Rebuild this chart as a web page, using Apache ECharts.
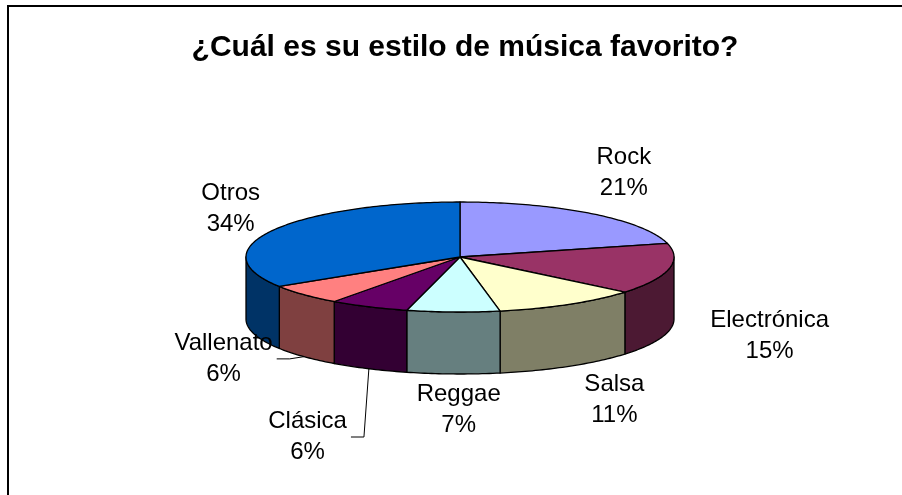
<!DOCTYPE html>
<html>
<head>
<meta charset="utf-8">
<script src="https://cdn.jsdelivr.net/npm/echarts@6/dist/echarts.min.js"></script>
<style>
  html, body { margin: 0; padding: 0; background: #fff; }
  #chart { width: 902px; height: 495px; }
</style>
</head>
<body>
<div id="chart"></div>
<script>
// datos de la encuesta (porcentajes)
const estilos = ['Rock', 'Electrónica', 'Salsa', 'Reggae', 'Clásica', 'Vallenato', 'Otros'];
const votos = [21, 15, 11, 7, 6, 6, 34];

const colores = ['#9999FF', '#993366', '#FFFFCC', '#CCFFFF', '#660066', '#FF8080', '#0066CC'];
// desplazamiento de cada etiqueta respecto a su posicion por defecto
const labelNudge = {
  'Rock': [2, -1], 'Electrónica': [52, -6], 'Salsa': [20, -10], 'Reggae': [7, -14],
  'Clásica': [-40, 23], 'Vallenato': [-44, -32], 'Otros': [2, 2]
};
const conLinea = ['Clásica', 'Vallenato'];

const pie = { cx: 460, cy: 257, rx: 214, ry: 55, depth: 62 };
const labelFont = '24px "Liberation Sans", Arial, sans-serif';

const total = votos.reduce((a, b) => a + b, 0);
const inicio = [];
let acc = 0;
for (let v of votos) { inicio.push(acc); acc += v; }

function oscuro(hex) {
  let n = parseInt(hex.slice(1), 16);
  let r = (n >> 16) >> 1, g = ((n >> 8) & 255) >> 1, b = (n & 255) >> 1;
  return 'rgb(' + r + ',' + g + ',' + b + ')';
}
function punto(deg, dy) {
  let t = deg * Math.PI / 180;
  return [pie.cx + pie.rx * Math.sin(t), pie.cy - pie.ry * Math.cos(t) + (dy || 0)];
}
function arco(a, b, dy) {
  let pts = [];
  let n = Math.max(2, Math.ceil((b - a) / 1));
  for (let k = 0; k <= n; k++) pts.push(punto(a + (b - a) * k / n, dy));
  return pts;
}
const ctx = document.createElement('canvas').getContext('2d');
ctx.font = labelFont;

function renderItem(params, api) {
  let i = params.dataIndex;
  let a = inicio[i] / total * 360;
  let b = (inicio[i] + votos[i]) / total * 360;
  let mid = (a + b) / 2;
  let children = [];

  // pared lateral (solo la mitad frontal)
  let wa = Math.max(a, 90), wb = Math.min(b, 270);
  if (wb > wa) {
    let pts = arco(wa, wb, 0).concat(arco(wa, wb, pie.depth).reverse());
    children.push({
      type: 'polygon', z2: 1,
      shape: { points: pts },
      style: { fill: oscuro(colores[i]), stroke: '#000', lineWidth: 1.3, lineJoin: 'round' }
    });
  }
  // cara superior
  children.push({
    type: 'polygon', z2: 5,
    shape: { points: [[pie.cx, pie.cy]].concat(arco(a, b, 0)) },
    style: { fill: colores[i], stroke: '#000', lineWidth: 1.3, lineJoin: 'round' }
  });

  // etiqueta
  let t = mid * Math.PI / 180;
  let lx = pie.cx + (pie.rx + 50) * Math.sin(t);
  let ly = pie.cy - (pie.ry + 50) * Math.cos(t) + (Math.cos(t) < 0 ? pie.depth : 0);
  let nd = labelNudge[estilos[i]] || [0, 0];
  lx += nd[0]; ly += nd[1];
  children.push({
    type: 'text', z2: 10,
    style: {
      text: estilos[i] + '\n' + Math.round(votos[i] / total * 100) + '%',
      x: lx, y: ly, align: 'center', verticalAlign: 'middle',
      font: labelFont, lineHeight: 31, fill: '#000'
    }
  });

  if (conLinea.indexOf(estilos[i]) >= 0) {
    let w = ctx.measureText(estilos[i]).width;
    let fin = [lx + w / 2 + 4, ly];
    let codo = [fin[0] + 13, fin[1]];
    let borde = punto(mid, pie.depth);
    children.push({
      type: 'polyline', z2: 10,
      shape: { points: [borde, codo, fin] },
      style: { stroke: '#000', lineWidth: 1, fill: null }
    });
  }
  return { type: 'group', children: children };
}

const chart = echarts.init(document.getElementById('chart'));
chart.setOption({
  backgroundColor: '#fff',
  animation: false,
  graphic: [
    {
      type: 'rect', shape: { x: 8, y: 6, width: 1200, height: 1200 },
      style: { fill: null, stroke: '#000', lineWidth: 2 }
    },
    {
      type: 'text', x: 465, y: 48,
      style: {
        text: '¿Cuál es su estilo de música favorito?',
        align: 'center', verticalAlign: 'middle',
        font: 'bold 30px "Liberation Sans", Arial, sans-serif', fill: '#000'
      }
    }
  ],
  series: [{
    type: 'custom',
    coordinateSystem: 'none',
    renderItem: renderItem,
    data: votos.map((v, i) => ({ name: estilos[i], value: v }))
  }]
});
</script>
</body>
</html>
